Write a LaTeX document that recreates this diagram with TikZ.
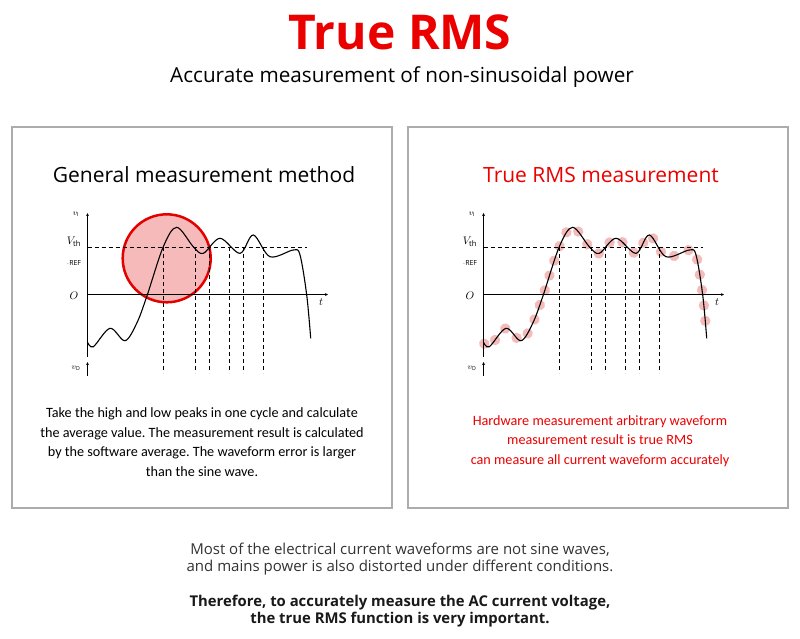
\documentclass[tikz,border=0pt]{standalone}
\usepackage{fontspec}
\setmainfont{Open Sans}
\newfontfamily\boxfont{Carlito}
\usetikzlibrary{decorations.markings}
\frenchspacing
\definecolor{rmsred}{RGB}{235,0,0}
\definecolor{framegray}{RGB}{172,172,172}
\definecolor{circlepink}{RGB}{246,186,186}
\definecolor{dotpink}{RGB}{242,170,170}
% the distorted waveform, drawn the same way in both panels
\newcommand{\drawwave}[1]{\draw[#1] plot[smooth, tension=0.55] coordinates {
  (87.3,341.7) (93.3,346.7) (110,328.3) (125,340.7) (136.7,323.3)
  (146.7,296.7) (163.3,246.7) (176.7,227.3) (193.3,246.7) (203.3,253.3)
  (220,238.3) (240,253.3) (253.3,235) (270,256.7) (293.3,250)
  (300,255) (306.7,295) (310.7,338.3)};}
\tikzset{
  panel/.style={draw=framegray, line width=2.5pt, minimum width=380pt, minimum height=381pt},
  wave/.style={black, line width=1.1pt},
  thresh/.style={dashed, line width=0.6pt, dash pattern=on 4pt off 3pt},
  boxtext/.style={font=\boxfont\fontsize{14.2}{19.5}\selectfont, align=center},
  footnote/.style={font=\fontsize{15}{17.5}\selectfont, align=center, text=black!80},
  axislabel/.style={font=\fontsize{11}{12}\selectfont, inner sep=0pt},
  dotted wave/.style={decoration={markings,
      mark=between positions 0.005 and 0.995 step 15.5pt with {\fill[dotpink, opacity=0.8] (0,0) circle (5.2pt);}},
      decorate, draw=none}
}
\begin{document}
\begin{tikzpicture}[x=1pt, y=-1pt, >=stealth]
\useasboundingbox[fill=white] (0,0) rectangle (800,638);
% headings
\node[font=\fontsize{48}{48}\selectfont\bfseries, text=rmsred] (title) at (400,32) {True RMS};
\node[font=\fontsize{20.7}{24}\selectfont] (subtitle) at (402,77) {Accurate measurement of non-sinusoidal power};
% the two panels
\node[panel] (leftpanel) at (202,317.5) {};
\node[panel] (rightpanel) at (598,317.5) {};
\node[font=\fontsize{21}{24}\selectfont] (lefthead) at (204,175) {General measurement method};
\node[font=\fontsize{21}{24}\selectfont, text=rmsred] (righthead) at (601,175) {True RMS measurement};
% graphs, left one at its place, right one shifted
\foreach \sx in {0,396} {
  \begin{scope}[xshift=\sx pt]
    \ifnum\sx=0
      \draw[red!90!black, line width=2.5pt, fill=circlepink] (166.7,258.3) circle (44);
    \else
      \drawwave{dotted wave}
    \fi
    \draw[->] (87.5,357) -- (87.5,213);
    \draw[->] (87.5,376) -- (87.5,362);
    \draw[->] (87.5,294.5) -- (328,294.5);
    \draw[thresh] (87.5,247) -- (307,247);
    \foreach \xv in {163.3,195,209.3,229.3,243.3,263.3}
      \draw[thresh] (\xv,247) -- (\xv,373);
    \drawwave{wave}
    \node[axislabel] (vi\sx) at (76,214) {$\scriptstyle v_{\mathrm I}$};
    \node[axislabel] (vo\sx) at (76,368) {$\scriptstyle v_{\mathrm O}$};
    \node[axislabel] (vth\sx) at (74,242) {$V_{\mathrm{th}}$};
    \node[axislabel, font=\rmfamily\fontsize{7}{8}\selectfont] (ref\sx) at (74,263) {$\cdot$\\[-6pt]REF};
    \node[axislabel] (orig\sx) at (74,296) {$O$};
    \node[axislabel] (time\sx) at (321,302) {$t$};
  \end{scope}
}
% panel texts
\node[boxtext] (lefttext) at (202,442) {Take the high and low peaks in one cycle and calculate\\
  the average value. The measurement result is calculated\\
  by the software average. The waveform error is larger\\
  than the sine wave.};
\node[boxtext, text=rmsred] (righttext) at (600,441) {Hardware measurement arbitrary waveform\\
  measurement result is true RMS\\
  can measure all current waveform accurately};
% closing remarks
\node[footnote] (note) at (400,559) {Most of the electrical current waveforms are not sine waves,\\
  and mains power is also distorted under different conditions.};
\node[footnote, font=\bfseries\fontsize{14.85}{17.5}\selectfont, text=black!90] (moral) at (400,611) {Therefore, to accurately measure the AC current voltage,\\
  the true RMS function is very important.};
\end{tikzpicture}
\end{document}
